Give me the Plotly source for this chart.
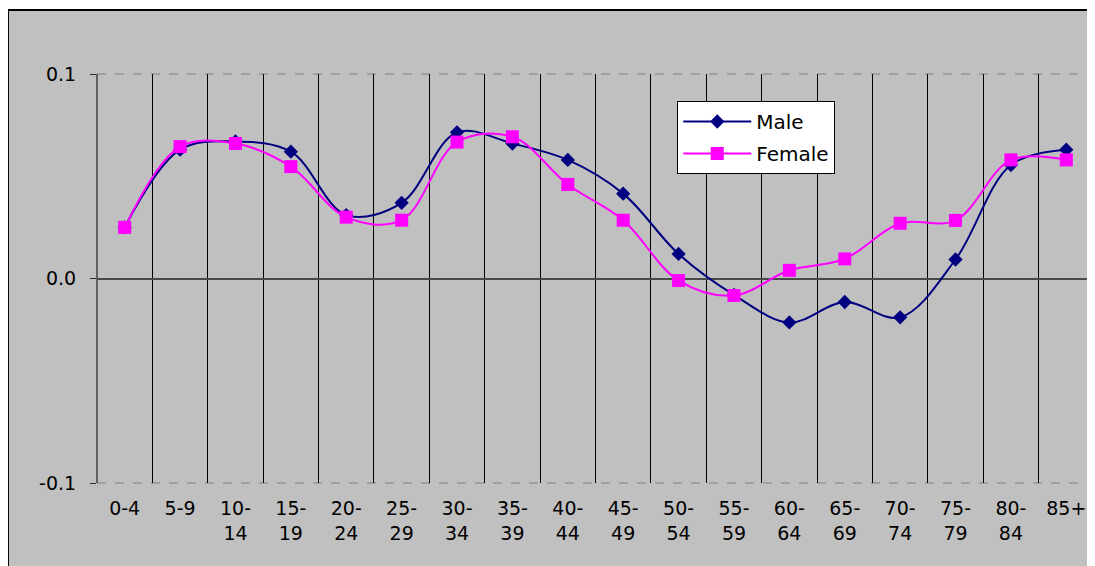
import plotly.graph_objects as go

age_groups = ["0-4", "5-9", "10-14", "15-19", "20-24", "25-29", "30-34", "35-39", "40-44",
              "45-49", "50-54", "55-59", "60-64", "65-69", "70-74", "75-79", "80-84", "85+"]
male = [0.025, 0.063, 0.067, 0.062, 0.031, 0.037, 0.0715, 0.066, 0.058, 0.0415,
        0.012, -0.008, -0.0215, -0.0115, -0.019, 0.0093, 0.0555, 0.063]
female = [0.025, 0.0645, 0.066, 0.0547, 0.030, 0.0285, 0.0667, 0.0693, 0.046, 0.0285,
          -0.001, -0.0083, 0.004, 0.0096, 0.027, 0.0284, 0.058, 0.058]
y_ticks = [-0.1, 0.0, 0.1]
y_tick_text = ["-0.1", "0.0", "0.1"]

tick_text = [a.replace("-", "-<br>") if len(a) > 3 else a for a in age_groups]

FONT = "DejaVu Sans"

fig = go.Figure()
fig.add_trace(go.Scatter(
    x=age_groups, y=male, name="Male", mode="lines+markers", legendgroup="m",
    line=dict(color="#000080", width=2, shape="spline", smoothing=1.0),
    marker=dict(symbol="diamond", size=11, color="#000080"),
))
fig.add_trace(go.Scatter(
    x=age_groups, y=female, name="Female", mode="lines+markers", legendgroup="f",
    line=dict(color="#FF00FF", width=2, shape="spline", smoothing=1.0),
    marker=dict(symbol="square", size=13, color="#FF00FF"),
))

# outer chart area (gray with black border)
fig.add_shape(type="rect", xref="paper", yref="paper",
              x0=-0.0893, x1=1.05, y0=-0.4, y1=1.1565,
              fillcolor="#C0C0C0", line=dict(color="black", width=2), layer="below")
# frame lines at the plot-area edges (plotly skips gridlines at range ends)
for yy in (0, 1):
    fig.add_shape(type="line", xref="paper", yref="paper", x0=0, x1=1, y0=yy, y1=yy,
                  line=dict(color="#808080", width=1, dash="dash"), layer="below")
for xx in (0, 1):
    fig.add_shape(type="line", xref="paper", yref="paper", x0=xx, x1=xx, y0=0, y1=1,
                  line=dict(color="black", width=1), layer="below")

fig.update_layout(
    width=1087, height=558,
    margin=dict(l=89, r=1, t=66, b=83),
    paper_bgcolor="white",
    plot_bgcolor="rgba(0,0,0,0)",
    font=dict(family=FONT, size=19, color="black"),
    showlegend=True,
    legend=dict(x=0.582, y=0.934, xanchor="left", yanchor="top",
                bgcolor="white", bordercolor="black", borderwidth=1,
                itemwidth=68, tracegroupgap=3,
                font=dict(family=FONT, size=20, color="black")),
)
fig.update_xaxes(
    type="category", range=[-0.5, 17.5],
    tickmode="array", tickvals=age_groups, ticktext=tick_text,
    tickson="boundaries", showgrid=True, gridcolor="black", gridwidth=1,
    ticks="", showline=False, zeroline=False, tickangle=0, ticklabelstandoff=12,
    tickfont=dict(family=FONT, size=19, color="black"),
)
fig.update_yaxes(
    range=[-0.1, 0.1], tickmode="array", tickvals=y_ticks, ticktext=y_tick_text,
    showgrid=True, gridcolor="#808080", gridwidth=1, griddash="dash",
    zeroline=True, zerolinecolor="#4a4a4a", zerolinewidth=2,
    ticks="outside", ticklen=6, tickcolor="#303030", ticklabelstandoff=10,
    showline=False,
    tickfont=dict(family=FONT, size=19, color="black"),
)

fig.write_html("out.html")
